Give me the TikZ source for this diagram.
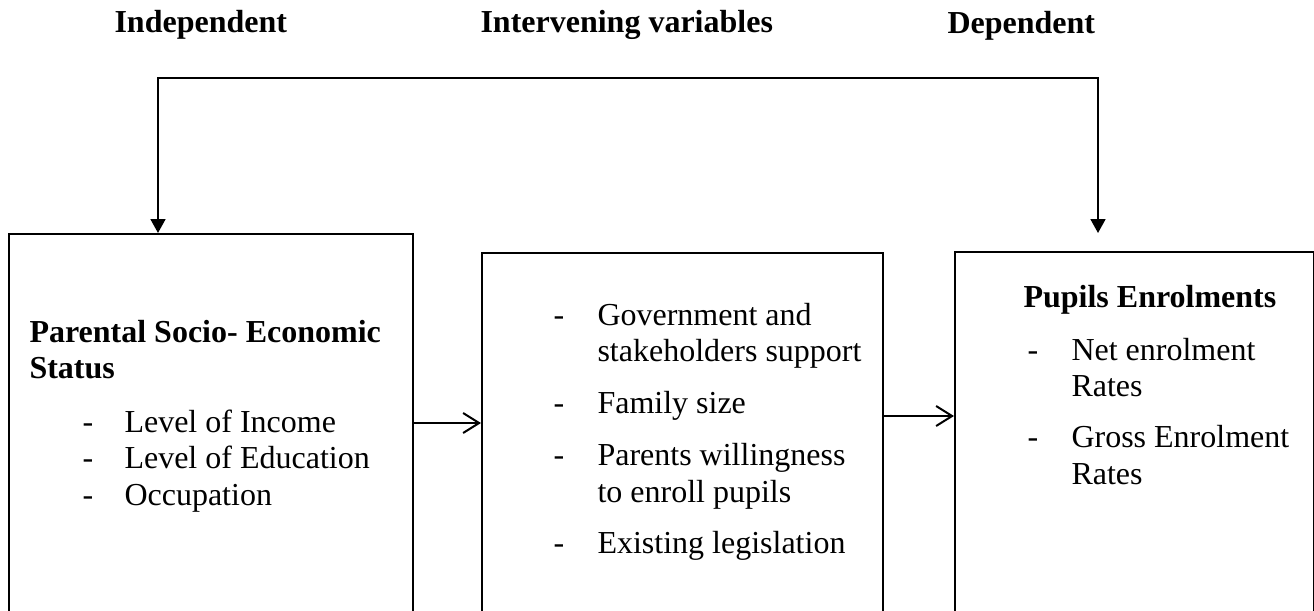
\documentclass[tikz,border=0pt]{standalone}
\usepackage{fontspec}
\setmainfont{Liberation Serif}
\usetikzlibrary{arrows.meta}
\tikzset{%
    % Boxes for the three groups of variables
    box/.style  = {draw, line width=0.75pt, anchor=north west, inner sep=0pt},
    % Text styles
    head/.style = {anchor=base west, inner sep=0pt,
    font=\fontsize{12}{13.8}\selectfont\bfseries},
    txt/.style  = {anchor=base west, inner sep=0pt,
    font=\fontsize{12}{13.8}\selectfont},
    % Connectors
    link/.style = {line width=0.75pt,
    {Triangle[length=5.25pt,width=5.6pt]}-{Triangle[length=5.25pt,width=5.6pt]}},
    flow/.style = {line width=0.75pt, -{Straight Barb[length=6pt,width=7.5pt]}}
}

\begin{document}
\begin{tikzpicture}[x=0.375pt, y=0.375pt]
	\useasboundingbox (0,0) rectangle (1314,610);

	\node[head] (hindep) at (114,578) {Independent};
	\node[head] (hinter) at (480,578) {Intervening variables};
	\node[head] (hdep) at (947,577) {Dependent};

	\node[box, minimum width=151.5pt, minimum height=145.1pt] (lbox) at (8,377) {};
	\node[box, minimum width=150.4pt, minimum height=138pt] (mbox) at (481,358) {};
	\node[box, minimum width=134.6pt, minimum height=138.4pt] (rbox) at (954,359) {};

	\node[txt, font=\fontsize{12}{13.8}\selectfont\bfseries] (ltitle) at (29,268)
	{\begin{tabular}[t]{@{}l@{}}Parental Socio- Economic\\Status\end{tabular}};
	\node[txt] (llist) at (82,178)
	{\begin{tabular}[t]{@{}p{15.75pt}@{}l@{}}
	-&Level of Income\\
	-&Level of Education\\
	-&Occupation
	\end{tabular}};
	\node[txt] (mlist) at (553,285)
	{\begin{tabular}[t]{@{}p{16.5pt}@{}l@{}}
	-&Government and\\
	&stakeholders support\\[5.6pt]
	-&Family size\\[5.6pt]
	-&Parents willingness\\
	&to enroll pupils\\[5.6pt]
	-&Existing legislation
	\end{tabular}};
	\node[head] (rtitle) at (1023,303) {Pupils Enrolments};
	\node[txt] (rlist) at (1027,250)
	{\begin{tabular}[t]{@{}p{16.5pt}@{}l@{}}
	-&Net enrolment\\
	&Rates\\[5.2pt]
	-&Gross Enrolment\\
	&Rates
	\end{tabular}};

	\coordinate (bend) at (158,532);
	\coordinate (rtip) at (1098,377);
	\draw[link] (lbox.north -| bend) -- (bend) -| (rtip);
	\draw[flow] (lbox.east |- 0,187) -- (mbox.west |- 0,187);
	\draw[flow] (mbox.east |- 0,194) -- (rbox.west |- 0,194);
\end{tikzpicture}
\end{document}
